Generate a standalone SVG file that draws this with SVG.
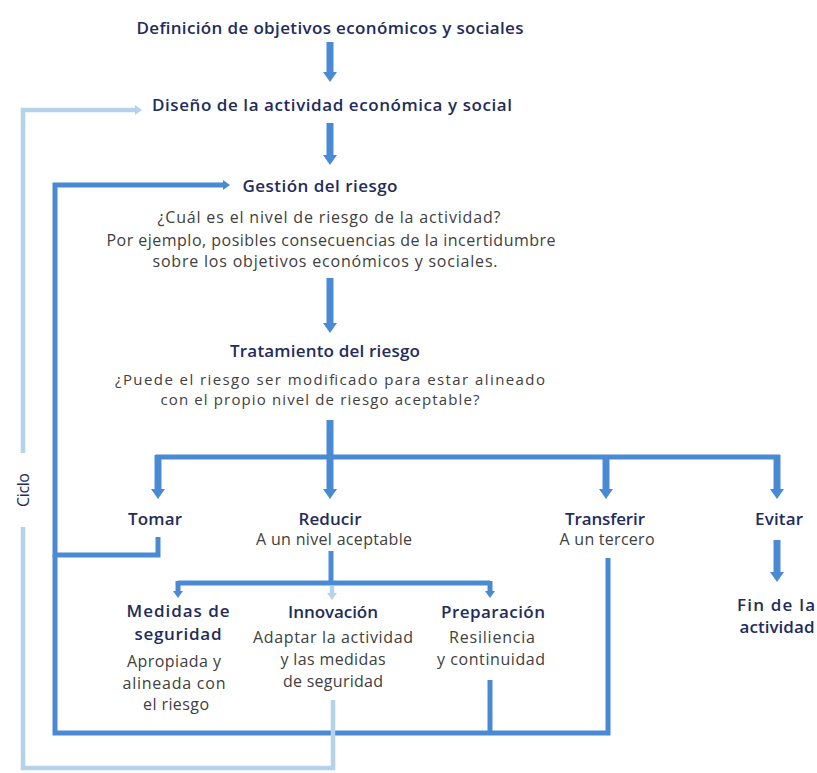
<svg xmlns="http://www.w3.org/2000/svg" width="817" height="773" viewBox="0 0 817 773">
<style>
.h{font-family:"Open Sans","Liberation Sans",sans-serif;font-size:17px;font-weight:600;fill:#1f2c5c;text-anchor:middle}
.b{font-family:"Open Sans","Liberation Sans",sans-serif;font-size:16px;font-weight:400;fill:#404040;text-anchor:middle}
.s{font-size:15px}
.d{fill:none;stroke:#4a8ad4;stroke-width:5}
.dt{fill:none;stroke:#4a8ad4;stroke-width:7}
.l{fill:none;stroke:#b4d2ec;stroke-width:4.5}
</style>
<defs>
<marker id="bigD" markerUnits="userSpaceOnUse" markerWidth="12" markerHeight="16" refX="0" refY="8" orient="auto" overflow="visible"><path d="M0,1 L10,8 L0,15 z" fill="#4a8ad4"/></marker>
<marker id="smD" markerUnits="userSpaceOnUse" markerWidth="9" markerHeight="12" refX="0" refY="6" orient="auto" overflow="visible"><path d="M0,1 L7,6 L0,11 z" fill="#4a8ad4"/></marker>
<marker id="smL" markerUnits="userSpaceOnUse" markerWidth="9" markerHeight="12" refX="0" refY="6" orient="auto" overflow="visible"><path d="M0,1 L7,6 L0,11 z" fill="#b4d2ec"/></marker>
</defs>
<g id="connectors">
<path class="dt" d="M330,42 V72" marker-end="url(#bigD)"/>
<path class="dt" d="M330,123 V155" marker-end="url(#bigD)"/>
<path class="dt" d="M330,278 V323" marker-end="url(#bigD)"/>
<path class="dt" d="M330,420 V457"/>
<path class="d" d="M155.5,457 H780"/>
<path class="dt" d="M158,455 V489" marker-end="url(#bigD)"/>
<path class="dt" d="M330,455 V489" marker-end="url(#bigD)"/>
<path class="dt" d="M606,455 V489" marker-end="url(#bigD)"/>
<path class="dt" d="M777,455 V489" marker-end="url(#bigD)"/>
<path class="dt" d="M777,540 V572" marker-end="url(#bigD)"/>
<path class="d" d="M331,551 V583"/>
<path class="d" d="M178,583 H490"/>
<path class="d" d="M178,581 V591" marker-end="url(#smD)"/>
<path class="d" d="M490,581 V591" marker-end="url(#smD)"/>
<path class="l" d="M332,586 V593" marker-end="url(#smL)"/>
<path class="d" d="M158,537 V555 H55 V185 H223" marker-end="url(#smD)"/>
<path class="d" d="M55,555 V733 H608 V558"/>
<path class="d" d="M490,680 V733"/>
<path class="l" d="M333,700 V768 H23 V527"/>
<path class="l" d="M23,453 V110 H135" marker-end="url(#smL)"/>
</g>
<g id="definicion"><text class="h" x="330" y="34" textLength="387">Definición de objetivos económicos y sociales</text></g>
<g id="diseno"><text class="h" x="332" y="111" textLength="360">Diseño de la actividad económica y social</text></g>
<g id="gestion">
<text class="h" x="320" y="192" textLength="155">Gestión del riesgo</text>
<text class="b" x="329" y="223" textLength="343">¿Cuál es el nivel de riesgo de la actividad?</text>
<text class="b" x="331" y="246" textLength="449">Por ejemplo, posibles consecuencias de la incertidumbre</text>
<text class="b" x="325" y="267" textLength="345">sobre los objetivos económicos y sociales.</text>
</g>
<g id="tratamiento">
<text class="h" x="325" y="357" textLength="190">Tratamiento del riesgo</text>
<text class="b s" x="330" y="385" textLength="430">¿Puede el riesgo ser modificado para estar alineado</text>
<text class="b s" x="320" y="405" textLength="319">con el propio nivel de riesgo aceptable?</text>
</g>
<g id="tomar"><text class="h" x="155" y="525" textLength="54">Tomar</text></g>
<g id="reducir">
<text class="h" x="330" y="525" textLength="63">Reducir</text>
<text class="b" x="334" y="545" textLength="156">A un nivel aceptable</text>
</g>
<g id="transferir">
<text class="h" x="605" y="525" textLength="80">Transferir</text>
<text class="b" x="607" y="545" textLength="95">A un tercero</text>
</g>
<g id="evitar"><text class="h" x="779" y="525" textLength="48">Evitar</text></g>
<g id="fin">
<text class="h" x="776" y="611" textLength="78">Fin de la</text>
<text class="h" x="777" y="633" textLength="75">actividad</text>
</g>
<g id="medidas">
<text class="h" x="178" y="617" textLength="103">Medidas de</text>
<text class="h" x="178" y="640" textLength="87">seguridad</text>
<text class="b" x="174" y="667" textLength="94">Apropiada y</text>
<text class="b" x="174" y="689" textLength="103">alineada con</text>
<text class="b" x="176" y="710" textLength="66">el riesgo</text>
</g>
<g id="innovacion">
<text class="h" x="333" y="618" textLength="90">Innovación</text>
<text class="b" x="333" y="643" textLength="160">Adaptar la actividad</text>
<text class="b" x="333" y="665" textLength="105">y las medidas</text>
<text class="b" x="333" y="687" textLength="100">de seguridad</text>
</g>
<g id="preparacion">
<text class="h" x="493" y="618" textLength="104">Preparación</text>
<text class="b" x="492" y="643" textLength="86">Resiliencia</text>
<text class="b" x="491" y="665" textLength="108">y continuidad</text>
</g>
<g id="ciclo"><text class="b" x="0" y="0" transform="translate(23,490) rotate(-90)" dominant-baseline="central" style="fill:#1f2c5c;font-size:16px" textLength="34">Ciclo</text></g>
</svg>
